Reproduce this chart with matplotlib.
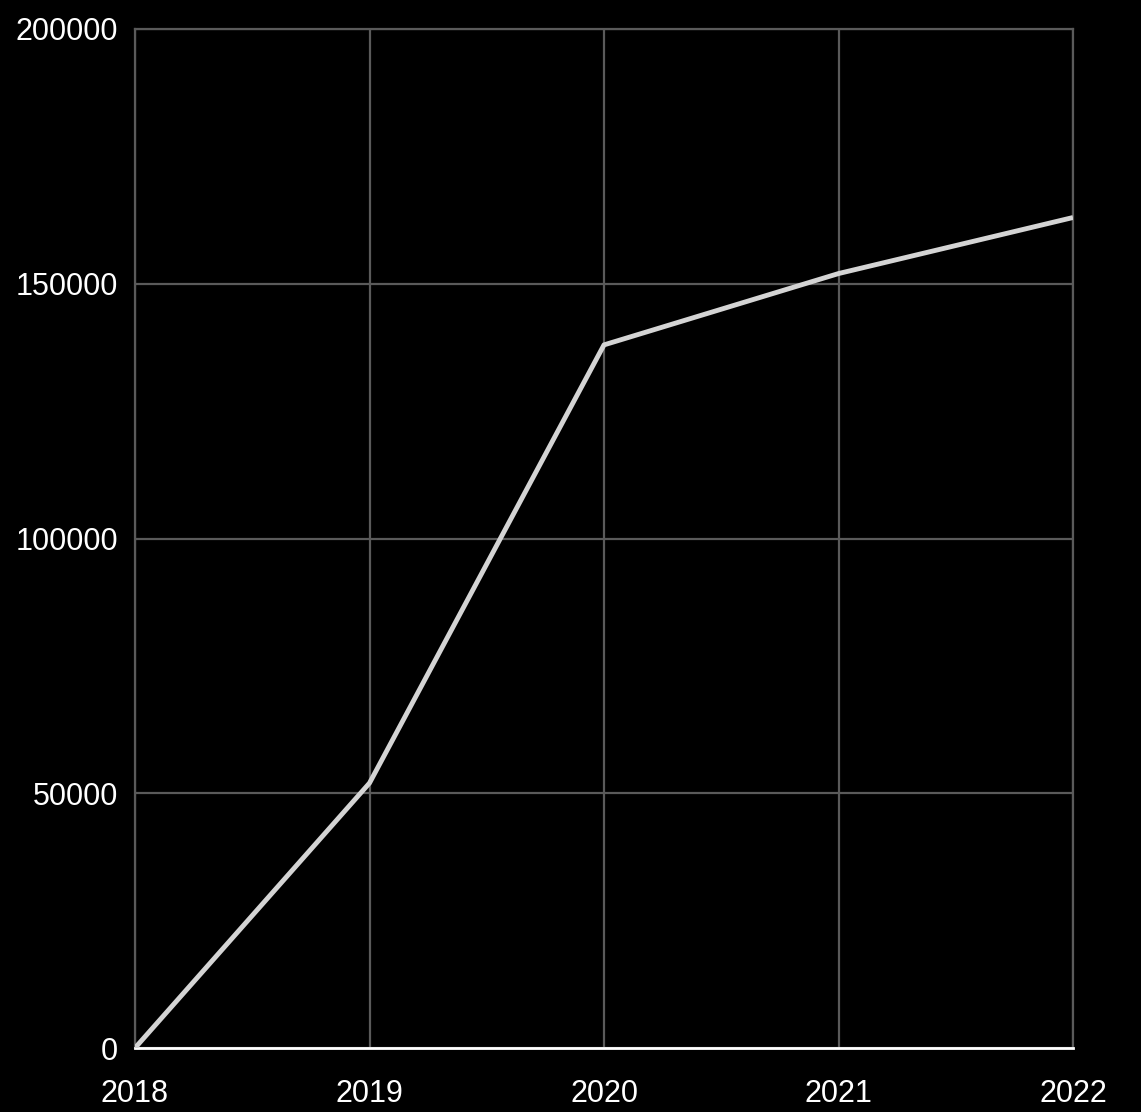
import matplotlib.pyplot as plt

years = [2018, 2019, 2020, 2021, 2022]
values = [0, 52000, 138000, 152000, 163000]
yticks = [0, 50000, 100000, 150000, 200000]

plt.rcParams['font.family'] = ['Liberation Sans', 'DejaVu Sans']

fig = plt.figure(figsize=(11.41, 11.12), dpi=100, facecolor='black')
ax = fig.add_axes([135 / 1141, 64 / 1112, 938 / 1141, 1019 / 1112])
ax.set_facecolor('black')

ax.plot(years, values, color='#d4d4d4', linewidth=3.5, solid_capstyle='butt', zorder=3)

ax.set_xlim(2018, 2022)
ax.set_ylim(0, 200000)
ax.set_xticks(years)
ax.set_yticks(yticks)
ax.set_xticklabels([str(y) for y in years])
ax.set_yticklabels([str(v) for v in yticks])
ax.grid(True, color='#5a5a5a', linewidth=1.6)
ax.set_axisbelow(True)

for side in ['top', 'right', 'left']:
    ax.spines[side].set_color('#5a5a5a')
    ax.spines[side].set_linewidth(1.6)
ax.spines['bottom'].set_color('white')
ax.spines['bottom'].set_linewidth(2)

ax.tick_params(axis='both', length=0, colors='white', labelsize=22)
ax.tick_params(axis='x', pad=22)
ax.tick_params(axis='y', pad=12)

fig.savefig('out.png', dpi=100, facecolor='black')
